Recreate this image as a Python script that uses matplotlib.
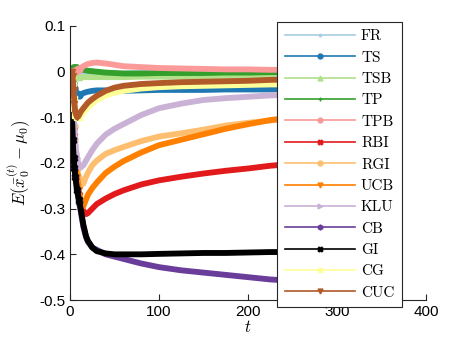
import matplotlib
matplotlib.use("Agg")
import matplotlib.pyplot as plt
from matplotlib.lines import Line2D

plt.rcParams.update({
    "font.family": ["Liberation Sans", "DejaVu Sans"],
    "mathtext.fontset": "cm",
    "font.size": 11,
})

# sample times (t) and mean error curves
t = [1, 2, 3, 4, 5, 6, 8, 10, 12, 15, 18, 20, 25, 30, 40, 50, 60, 80,
     100, 125, 150, 175, 200, 225, 250, 275, 300]

FR = [0, 0, -0.002, -0.003, -0.004, -0.004, -0.004, -0.004, -0.004, -0.004,
      -0.004, -0.004, -0.004, -0.004, -0.004, -0.004, -0.004, -0.003,
      -0.003, -0.003, -0.003, -0.002, -0.002, -0.002, -0.002, -0.002, -0.002]
TS = [0, -0.01, -0.025, -0.035, -0.042, -0.047, -0.05, -0.052, -0.05, -0.047,
      -0.045, -0.044, -0.042, -0.041, -0.041, -0.042, -0.042, -0.041,
      -0.04, -0.04, -0.04, -0.039, -0.039, -0.039, -0.038, -0.038, -0.038]
TSB = [0, 0, -0.002, -0.005, -0.008, -0.009, -0.011, -0.012, -0.012, -0.012,
       -0.012, -0.012, -0.012, -0.012, -0.012, -0.012, -0.012, -0.011,
       -0.011, -0.011, -0.011, -0.010, -0.010, -0.010, -0.010, -0.010, -0.010]
TP = [0, 0.005, 0.008, 0.01, 0.01, 0.01, 0.01, 0.008, 0.006, 0.004,
      0.003, 0.002, 0.001, 0, -0.002, -0.003, -0.004, -0.004,
      -0.003, -0.003, -0.003, -0.002, -0.002, -0.001, -0.001, -0.001, -0.001]
TPB = [0, 0, 0, 0, 0, 0.002, 0.004, 0.006, 0.008, 0.012,
       0.015, 0.017, 0.019, 0.02, 0.018, 0.015, 0.012, 0.01,
       0.008, 0.007, 0.006, 0.005, 0.005, 0.004, 0.004, 0.004, 0.003]
RBI = [-0.01, -0.05, -0.1, -0.14, -0.17, -0.2, -0.24, -0.27, -0.29, -0.305,
       -0.312, -0.31, -0.3, -0.29, -0.278, -0.268, -0.26, -0.247,
       -0.238, -0.23, -0.223, -0.217, -0.212, -0.206, -0.202, -0.198, -0.195]
RGI = [0, -0.04, -0.08, -0.12, -0.15, -0.18, -0.21, -0.235, -0.248, -0.245,
       -0.23, -0.222, -0.205, -0.195, -0.18, -0.172, -0.165, -0.152,
       -0.142, -0.135, -0.127, -0.118, -0.112, -0.107, -0.102, -0.098, -0.094]
UCB = [0, -0.04, -0.09, -0.13, -0.16, -0.19, -0.23, -0.26, -0.285, -0.295,
       -0.28, -0.27, -0.255, -0.243, -0.222, -0.208, -0.196, -0.177,
       -0.161, -0.149, -0.137, -0.125, -0.115, -0.106, -0.1, -0.095, -0.09]
KLU = [0, -0.03, -0.07, -0.1, -0.13, -0.16, -0.19, -0.205, -0.21, -0.205,
       -0.195, -0.188, -0.172, -0.158, -0.138, -0.125, -0.115, -0.095,
       -0.08, -0.07, -0.062, -0.058, -0.055, -0.052, -0.05, -0.048, -0.046]
CB = [0, -0.08, -0.15, -0.19, -0.21, -0.23, -0.26, -0.285, -0.305, -0.34,
      -0.362, -0.372, -0.385, -0.39, -0.4, -0.405, -0.41, -0.42,
      -0.428, -0.435, -0.44, -0.445, -0.45, -0.455, -0.458, -0.46, -0.462]
GI = [0, -0.08, -0.15, -0.19, -0.21, -0.23, -0.26, -0.28, -0.3, -0.335,
      -0.36, -0.37, -0.385, -0.393, -0.398, -0.4, -0.4, -0.4,
      -0.399, -0.398, -0.397, -0.397, -0.396, -0.395, -0.395, -0.394, -0.394]
CG = [0, -0.01, -0.03, -0.06, -0.08, -0.095, -0.1, -0.1, -0.097, -0.09,
      -0.083, -0.078, -0.07, -0.062, -0.052, -0.046, -0.042, -0.037,
      -0.034, -0.032, -0.031, -0.03, -0.029, -0.028, -0.028, -0.027, -0.027]
CUC = [0, 0, -0.01, -0.04, -0.07, -0.09, -0.1, -0.095, -0.088, -0.08,
       -0.073, -0.068, -0.06, -0.053, -0.042, -0.035, -0.031, -0.027,
       -0.025, -0.023, -0.022, -0.021, -0.02, -0.018, -0.017, -0.016, -0.015]

names = ["FR", "TS", "TSB", "TP", "TPB", "RBI", "RGI", "UCB", "KLU", "CB",
         "GI", "CG", "CUC"]
series = [FR, TS, TSB, TP, TPB, RBI, RGI, UCB, KLU, CB, GI, CG, CUC]

# ColorBrewer "Paired", with black slotted in for GI
colors = ["#a6cee3", "#1f78b4", "#b2df8a", "#33a02c", "#fb9a99", "#e31a1c",
          "#fdbf6f", "#ff7f00", "#cab2d6", "#6a3d9a", "#000000", "#ffff99",
          "#b15928"]
markers = [".", "o", "^", "+", "o", "X", "o", "v", ">", "h", "X",
           "s", "v"]

fig = plt.figure(figsize=(4.73, 3.55), dpi=100)
ax = fig.add_axes([70 / 473, 1 - 300 / 355, 356 / 473, 274 / 355])

for y, c, m in zip(series, colors, markers):
    ax.plot(t, y, color=c, lw=4.2, marker=m, ms=5, markevery=slice(0, 8),
            solid_capstyle="butt")

ax.set_xlim(0, 400)
ax.set_ylim(-0.5, 0.1)
ax.set_xticks([0, 100, 200, 300, 400])
yt = [0.1, 0, -0.1, -0.2, -0.3, -0.4, -0.5]
ax.set_yticks(yt)
ax.set_yticklabels(["0.1", "0", "-0.1", "-0.2", "-0.3", "-0.4", "-0.5"])
ax.tick_params(direction="in", length=4, width=0.8, colors="#262626",
               labelcolor="black")
for s in ["top", "right"]:
    ax.spines[s].set_visible(False)
for s in ["left", "bottom"]:
    ax.spines[s].set_color("#262626")
    ax.spines[s].set_linewidth(0.8)

ax.set_xlabel("$t$", fontsize=12, labelpad=0)
ax.set_ylabel(r"$E(\bar{x}_0^{(t)}-\mu_0)$", fontsize=12, labelpad=4)

handles = [Line2D([], [], color=c, lw=1.2, marker=m, ms=3.5)
           for c, m in zip(colors, markers)]
leg = fig.legend(handles, names, loc="upper left",
                 bbox_to_anchor=(277 / 473, 1 - 22 / 355),
                 borderaxespad=0,
                 prop={"family": "cmr10", "size": 11},
                 handlelength=4.6, handletextpad=0.4, labelspacing=0.5,
                 borderpad=0.5, fancybox=False, framealpha=1,
                 edgecolor="#262626")
leg.get_frame().set_linewidth(0.8)

fig.savefig("out.png", dpi=100)
